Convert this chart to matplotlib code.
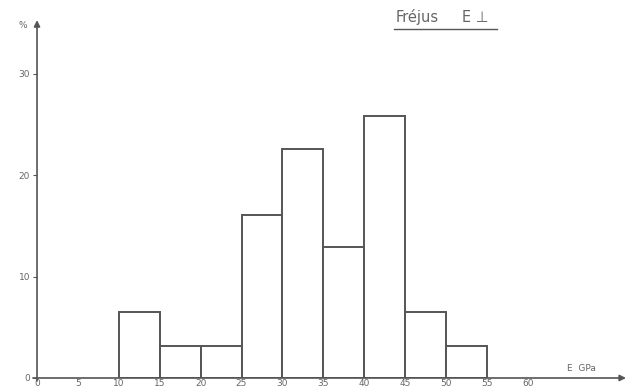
import numpy as np
import matplotlib.pyplot as plt

# E (GPa) class edges and percentage of samples in each class
edges = [10, 15, 20, 25, 30, 35, 40, 45, 50, 55]
pct = [6.5, 3.2, 3.2, 16.1, 22.6, 12.9, 25.8, 6.5, 3.2]
xticks = [0, 5, 10, 15, 20, 25, 30, 35, 40, 45, 50, 55, 60]
yticks = [0, 10, 20, 30]

grey = '#555555'
txt = '#666666'

fig = plt.figure(figsize=(6.34, 3.89), dpi=100)
ax = fig.add_axes([0.0584, 0.0283, 0.929, 0.920])

left = np.array(edges[:-1])
width = np.diff(edges)
ax.bar(left, pct, width=width, align='edge', facecolor='white',
       edgecolor=grey, linewidth=1.4)

ax.set_xlim(0, 72)
ax.set_ylim(0, 35.3)

# remove frame, draw arrow axes
for s in ax.spines.values():
    s.set_visible(False)
ax.annotate('', xy=(72, 0), xytext=(-0.5, 0), xycoords='data',
            arrowprops=dict(arrowstyle='-|>', color=grey, lw=1.2,
                            mutation_scale=9, shrinkA=0, shrinkB=0),
            annotation_clip=False)
ax.annotate('', xy=(0, 35.3), xytext=(0, -0.3), xycoords='data',
            arrowprops=dict(arrowstyle='-|>', color=grey, lw=1.2,
                            mutation_scale=9, shrinkA=0, shrinkB=0),
            annotation_clip=False)

ax.set_xticks(xticks)
ax.set_xticklabels([str(t) for t in xticks])
ax.set_yticks(yticks)
ax.set_yticklabels([str(t) for t in yticks])
ax.tick_params(axis='x', length=0, pad=1, labelsize=6.5, labelcolor=txt)
ax.tick_params(axis='y', length=3, width=0.8, color=grey, pad=2,
               labelsize=6.5, labelcolor=txt)

ax.text(-1.2, 34.8, '%', fontsize=6.5, color=txt, ha='right', va='center')
ax.text(66.5, 0.5, 'E  GPa', fontsize=6.5, color=txt, ha='center', va='bottom')

# title, underlined
ax.text(43.8, 35.6, 'Fréjus', fontsize=10.5, color=txt,
        ha='left', va='center', clip_on=False)
ax.text(52.0, 35.6, 'E \u22a5', fontsize=10.5, color=txt,
        ha='left', va='center', clip_on=False)
ax.plot([43.6, 56.2], [34.4, 34.4], color=grey, lw=1.0, clip_on=False)

fig.savefig('out.png', dpi=100)
